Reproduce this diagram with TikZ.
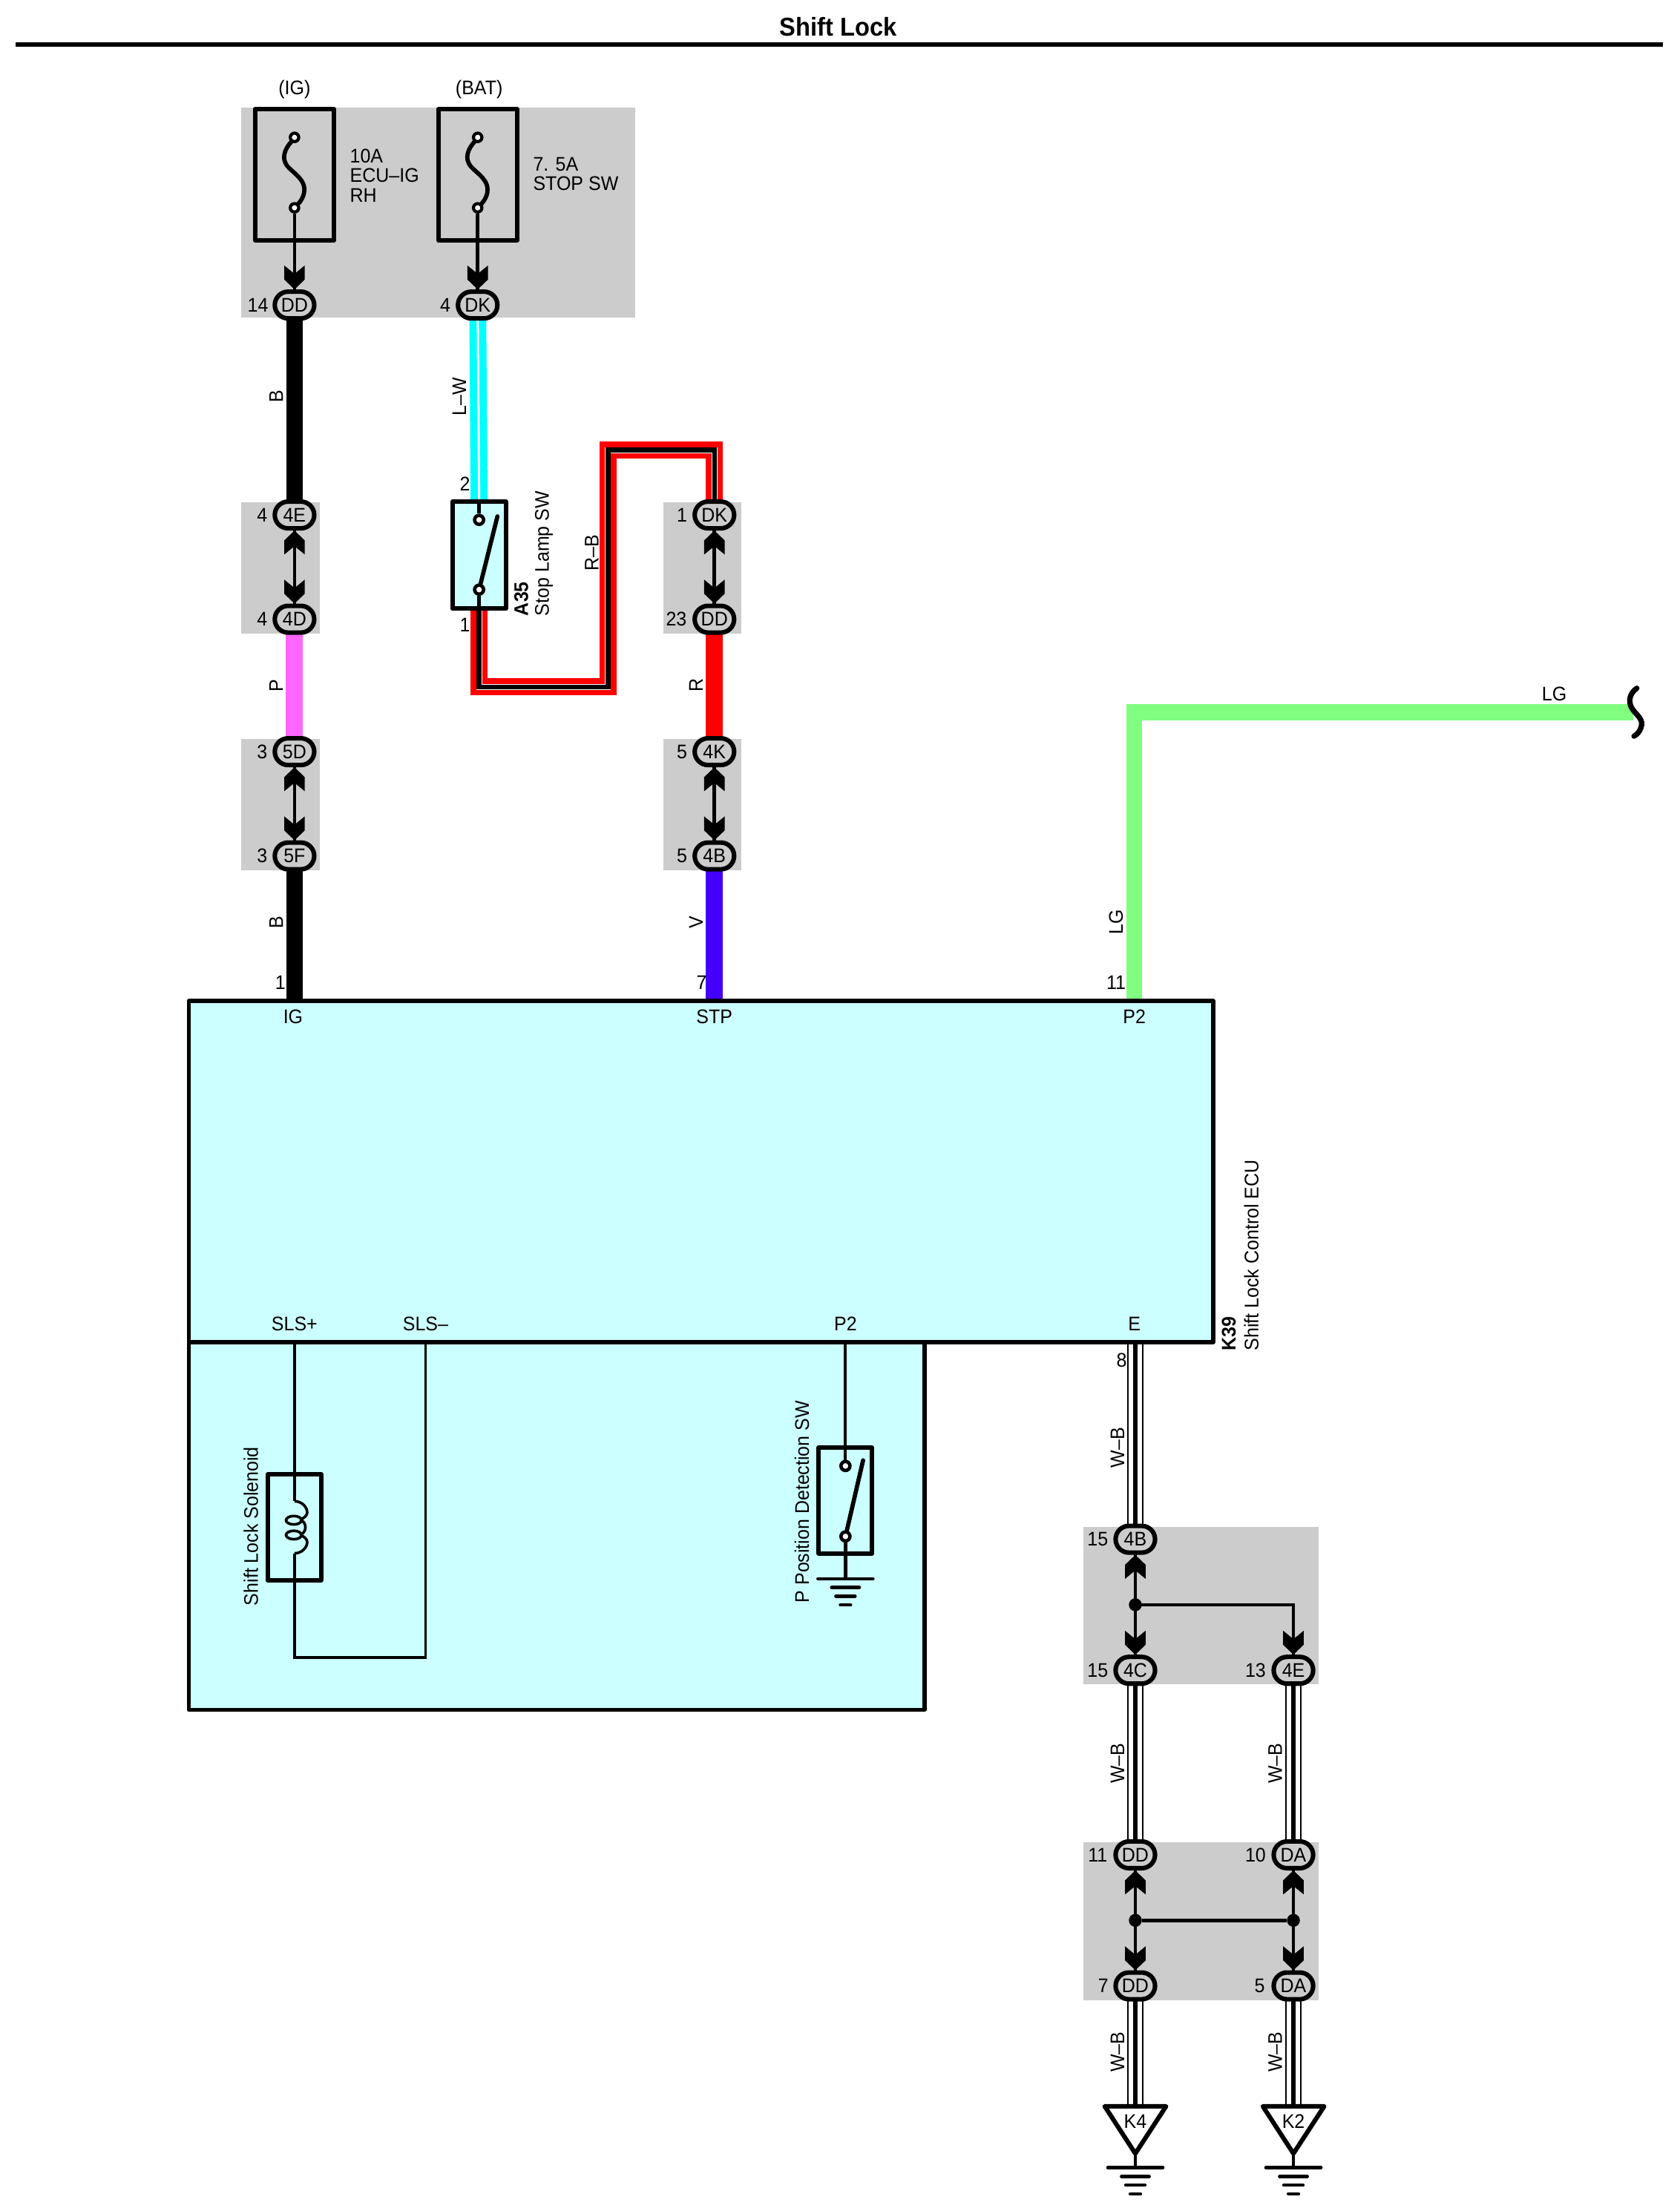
\documentclass[tikz,border=0pt]{standalone}
\usepackage{fontspec}
\setmainfont[FakeStretch=0.94]{Liberation Sans}
\usetikzlibrary{shapes.misc,fit}
\pgfdeclarelayer{greylayer}
\pgfdeclarelayer{wirelayer}
\pgfsetlayers{greylayer,wirelayer,main}
\definecolor{boxcyan}{HTML}{CCFFFF}
\definecolor{greybg}{HTML}{CCCCCC}
\definecolor{wcyan}{HTML}{00FFFF}
\definecolor{wpink}{HTML}{FF66FF}
\definecolor{wviolet}{HTML}{4400FF}
\definecolor{wgreen}{HTML}{80FF80}
\newcommand{\zw}[1]{\makebox[0pt]{#1}}
\tikzset{
  x=0.5pt,y=-0.5pt,
  every node/.style={font=\fontsize{7pt}{7pt}\selectfont,inner sep=0pt,text=black},
  conn/.style={rounded rectangle,draw=black,fill=greybg,line width=1.6pt,minimum width=14pt,minimum height=9.5pt},
  vlab/.style={rotate=90},
  bvlab/.style={rotate=90,font=\fontsize{7pt}{7pt}\selectfont\bfseries},
  heavybox/.style={draw=black,line width=1.6pt,inner sep=0pt,line join=round},
  cyanbox/.style={heavybox,fill=boxcyan},
  mainbox/.style={draw=black,line width=1.5pt,fill=boxcyan,inner sep=0pt,line join=round},
  term/.style={circle,draw=black,fill=white,line width=1.2pt,minimum size=3.2pt},
  fterm/.style={circle,draw=black,fill=white,line width=1.1pt,minimum size=3pt},
  dotj/.style={circle,fill=black,minimum size=4.6pt},
  link/.style={draw=black,line width=1.25pt},
  thin wire/.style={draw=black,line width=1pt},
  swarm/.style={draw=black,line width=1.5pt,line cap=round},
  blackwire/.style={draw=black,line width=5.7pt},
  colwire/.style={line width=6pt},
  lwwire/.style={draw=wcyan,line width=6pt,postaction={draw=white,line width=.8pt}},
  rbwire/.style={draw=red,line width=6pt,line join=miter,postaction={draw=white,line width=2.15pt},postaction={draw=black,line width=1.7pt}},
  wbwire/.style={draw=black,line width=5.6pt,postaction={draw=white,line width=4.9pt},postaction={draw=black,line width=1.5pt}},
  harrow/.pic={\fill[black] (0,0) -- (7.3,-7) -- (7.3,-17) -- (0,-11) -- (-7.3,-17) -- (-7.3,-7) -- cycle;},
  gnd/.pic={
    \draw[line width=1.2pt,line cap=round] (-19.5,0) -- (19.5,0);
    \draw[line width=1.2pt,line cap=round] (-9.8,6.2) -- (9.8,6.2);
    \draw[line width=1.2pt,line cap=round] (-6.8,12.4) -- (6.8,12.4);
    \draw[line width=1.2pt,line cap=round] (-3.6,18.6) -- (3.6,18.6);},
  fusecurve/.style={draw=black,line width=1.5pt},
}
\begin{document}
\begin{tikzpicture}
\useasboundingbox (0,-0.5) rectangle (1192.2,1568.8);
\begin{pgfonlayer}{greylayer}
  \fill[white] (0,-0.5) rectangle (1192.2,1568.8);
  \fill[greybg] (171,76) rectangle (451,225);
  \fill[greybg] (171,356) rectangle (227,449);
  \fill[greybg] (171,524) rectangle (227,617);
  \fill[greybg] (471,356) rectangle (526,449);
  \fill[greybg] (471,524) rectangle (526,617);
  \fill[greybg] (769,1083) rectangle (936,1195);
  \fill[greybg] (769,1307) rectangle (936,1419);
\end{pgfonlayer}

% title
\node[font=\fontsize{9.15pt}{9.15pt}\selectfont\bfseries] (title) at (595,18.5) {Shift Lock};
\coordinate (ruleL) at (11,31);
\coordinate (ruleR) at (1180,31);
\draw[line width=1.6pt] (ruleL) -- (ruleR);

% big boxes
\node[mainbox,fit={(134,952)(656,1213)}] (lowerbox) {};
\node[mainbox,fit={(134,710)(861,952)}] (ecu) {};

% fuses
\node[heavybox,fit={(181,77)(237,170)}] (fuseA) {};
\node[heavybox,fit={(311,77)(367,170)}] (fuseB) {};
\draw[fusecurve] (209,98) .. controls (203,103) and (200,110) .. (202.5,115) .. controls (204,120) and (216,125) .. (216,134) .. controls (216,140) and (212,144) .. (209,147);
\draw[fusecurve] (339,98) .. controls (333,103) and (330,110) .. (332.5,115) .. controls (334,120) and (346,125) .. (346,134) .. controls (346,140) and (342,144) .. (339,147);
\node[fterm] (fa1) at (209,97) {};
\node[fterm] (fa2) at (209,147) {};
\node[fterm] (fb1) at (339,97) {};
\node[fterm] (fb2) at (339,147) {};

% connectors
\node[conn] (c14dd) at (209,216) {\zw{DD}};
\node[conn] (c4dk)  at (339,216) {\zw{DK}};
\node[conn] (c4e)   at (209,365) {\zw{4E}};
\node[conn] (c4d)   at (209,439) {\zw{4D}};
\node[conn] (c5d)   at (209,533) {\zw{5D}};
\node[conn] (c5f)   at (209,607) {\zw{5F}};
\node[conn] (c1dk)  at (507,365) {\zw{DK}};
\node[conn] (c23dd) at (507,439) {\zw{DD}};
\node[conn] (c4k)   at (507,533) {\zw{4K}};
\node[conn] (c4b)   at (507,607) {\zw{4B}};
\node[conn] (d4b)   at (805.7,1092) {\zw{4B}};
\node[conn] (d4c)   at (805.7,1185) {\zw{4C}};
\node[conn] (d4e)   at (917.9,1185) {\zw{4E}};
\node[conn] (d11)   at (805.7,1316) {\zw{DD}};
\node[conn] (d10)   at (917.9,1316) {\zw{DA}};
\node[conn] (d7)    at (805.7,1409) {\zw{DD}};
\node[conn] (d5)    at (917.9,1409) {\zw{DA}};

% stop lamp switch
\node[cyanbox,fit={(321,355.5)(359,431.5)}] (stopsw) {};
\node[term] (s1) at (340,368.5) {};
\node[term] (s2) at (340,418) {};
\draw[line width=1.25pt] (s1) -- (s1 |- stopsw.north);
\draw[line width=1.25pt] (s2) -- (s2 |- stopsw.south);
\coordinate (s1arm) at (353,366);
\draw[swarm] (s2) -- (s1arm);

% ECU labels
\node (pIG) at (208,721) {IG};
\node (pSTP) at (507,721) {STP};
\node (pP2) at (805,721) {P2};
\node (pSLSp) at (209,939) {SLS+};
\node (pSLSm) at (302,939) {SLS–};
\node (pP2b) at (600,939) {P2};
\node (pE) at (805,939) {E};

% solenoid
\node[heavybox,fit={(190,1046)(228,1121)}] (sol) {};
\coordinate (coilT) at (209,1065);
\coordinate (coilB) at (209,1102);
\coordinate (sw1) at (209,952);
\coordinate (sw2) at (209,1176);
\coordinate (sw3) at (302,1176);
\coordinate (sw4) at (302,952);
\draw[thin wire] (sw1) -- (coilT);
\draw[thin wire] (coilB) -- (sw2) -- (sw3) -- (sw4);
\draw[draw=black,line width=.95pt] (coilT) .. controls (214,1065) and (218,1069) .. (218,1073) .. controls (218,1075) and (216,1077) .. (213,1078);
\draw[draw=black,line width=.95pt] (213,1078) .. controls (218,1080) and (218,1087) .. (213,1089);
\draw[draw=black,line width=.95pt] (213,1089) .. controls (216,1090) and (218,1092) .. (218,1094) .. controls (218,1098) and (214,1102) .. (coilB);
\draw[draw=black,line width=.95pt] (208.5,1078.5) ellipse [x radius=5.5,y radius=3];
\draw[draw=black,line width=.95pt] (208.5,1089) ellipse [x radius=5.5,y radius=3];

% P position switch
\node[heavybox,fit={(581,1027)(619,1102)}] (psw) {};
\node[term] (p1) at (600,1040) {};
\node[term] (p2) at (600,1090) {};
\coordinate (parm) at (612.5,1036);
\draw[swarm] (p2) -- (parm);
\coordinate (pwTop) at (600,952);
\coordinate (pgnd) at (600,1120);
\draw[thin wire] (pwTop) -- (p1);
\draw[line width=1.25pt] (p2) -- (pgnd);
\pic at (pgnd) {gnd};

% wires, behind the connectors
\begin{pgfonlayer}{wirelayer}
  \draw[blackwire] (c14dd.center) -- (c4e.center);
  \draw[lwwire] (c4dk.center) -- (s1 |- stopsw.north);
  \draw[colwire,draw=wpink] (c4d.center) -- (c5d.center);
  \draw[blackwire] (c5f.center) -- (c5f |- ecu.north);
  \coordinate (rb1) at (340,487);
  \coordinate (rb2) at (431.5,487);
  \coordinate (rb3) at (431.5,319);
  \coordinate (rb4) at (507,319);
  \draw[rbwire] (s2 |- stopsw.south) -- (rb1) -- (rb2) -- (rb3) -- (rb4) -- (c1dk.center);
  \draw[colwire,draw=red] (c23dd.center) -- (c4k.center);
  \draw[colwire,draw=wviolet] (c4b.center) -- (c4b |- ecu.north);
  \coordinate (lgT) at (805,710);
  \coordinate (lgC) at (805,505);
  \coordinate (lgE) at (1159,505);
  \draw[line width=5.7pt,draw=wgreen] (lgT) -- (lgC) -- (lgE);
  \draw[wbwire] (d4b.center) -- (d4b |- ecu.south);
  \draw[wbwire] (d4c.center) -- (d11.center);
  \draw[wbwire] (d4e.center) -- (d10.center);
  \coordinate (k4top) at (805.7,1494);
  \coordinate (k2top) at (917.9,1494);
  \draw[wbwire] (d7.center) -- (k4top);
  \draw[wbwire] (d5.center) -- (k2top);
  % links inside the grey blocks
  \draw[link] (fa2) -- (c14dd.center);
  \draw[link] (fb2) -- (c4dk.center);
  \draw[link] (c4e.center) -- (c4d.center);
  \draw[link] (c5d.center) -- (c5f.center);
  \draw[link] (c1dk.center) -- (c23dd.center);
  \draw[link] (c4k.center) -- (c4b.center);
  \coordinate (jb) at (917.9,1138.5);
  \draw[link] (d4b.center) -- (d4c.center);
  \draw[link] (d4e.center) -- (jb) -- (805.7,1138.5);
  \draw[link] (d11.center) -- (d7.center);
  \draw[link] (d10.center) -- (d5.center);
\end{pgfonlayer}

% junctions
\node[dotj] (j1) at (805.7,1138.5) {};
\node[dotj] (j2) at (805.7,1362.5) {};
\node[dotj] (j3) at (917.9,1362.5) {};
\draw[link] (j2) -- (j3);

% arrows
\pic at (c14dd.north) {harrow};
\pic at (c4dk.north) {harrow};
\pic at (c4d.north) {harrow};
\pic[rotate=180] at (c4e.south) {harrow};
\pic at (c5f.north) {harrow};
\pic[rotate=180] at (c5d.south) {harrow};
\pic at (c23dd.north) {harrow};
\pic[rotate=180] at (c1dk.south) {harrow};
\pic at (c4b.north) {harrow};
\pic[rotate=180] at (c4k.south) {harrow};
\pic[rotate=180] at (d4b.south) {harrow};
\pic at (d4c.north) {harrow};
\pic at (d4e.north) {harrow};
\pic[rotate=180] at (d11.south) {harrow};
\pic[rotate=180] at (d10.south) {harrow};
\pic at (d7.north) {harrow};
\pic at (d5.north) {harrow};

% grounds K4, K2
\draw[draw=black,line width=1.6pt,fill=white,line join=round] (784,1494.5) -- (827.5,1494.5) -- (805.7,1528) -- cycle;
\draw[draw=black,line width=1.6pt,fill=white,line join=round] (896.2,1494.5) -- (939.7,1494.5) -- (917.9,1528) -- cycle;
\node (k4) at (805.7,1505) {K4};
\node (k2) at (917.9,1505) {K2};
\coordinate (k4g) at (805.7,1538);
\coordinate (k2g) at (917.9,1538);
\draw[line width=1.25pt] (805.7,1528) -- (k4g);
\draw[line width=1.25pt] (917.9,1528) -- (k2g);
\pic at (k4g) {gnd};
\pic at (k2g) {gnd};

% squiggle
\draw[black,line width=1.9pt,line cap=round] (1161.6,488) .. controls (1157,491) and (1155,497) .. (1158,502) .. controls (1161,507) and (1167,510) .. (1164.5,516) .. controls (1163.5,519) and (1161.5,521) .. (1159.6,522);

% texts
\node (tIG) at (209,63) {(IG)};
\node (tBAT) at (340,63) {(BAT)};
\node[align=left,anchor=west] (tf1) at (248,124) {10A\\ECU–IG\\RH};
\node[align=left,anchor=west] (tf2) at (378,123) {7. 5A\\STOP SW};
\node (n14) at (183,216) {14};
\node (n4a) at (316,216) {4};
\node (n4b) at (186,365) {4};
\node (n4c) at (186,439) {4};
\node (n3a) at (186,533) {3};
\node (n3b) at (186,607) {3};
\node (n1a) at (484,365) {1};
\node (n23) at (480,439) {23};
\node (n5a) at (484,533) {5};
\node (n5b) at (484,607) {5};
\node (n2s) at (330,343) {2};
\node (n1s) at (330,443) {1};
\node (n1e) at (199,697) {1};
\node (n7e) at (498,697) {7};
\node (n11e) at (792,697) {11};
\node (n8e) at (796,965) {8};
\node (n15a) at (779,1092) {15};
\node (n15b) at (779,1185) {15};
\node (n13) at (891,1185) {13};
\node (n11) at (779,1316) {11};
\node (n10) at (891,1316) {10};
\node (n7) at (783,1409) {7};
\node (n5) at (894,1409) {5};
\node[vlab] (wB1) at (196,281) {B};
\node[vlab] (wLW) at (326,281) {L–W};
\node[vlab] (wP) at (196,486) {P};
\node[vlab] (wB2) at (196,654) {B};
\node[vlab] (wRB) at (420,392) {R–B};
\node[vlab] (wR) at (494,486) {R};
\node[vlab] (wV) at (494,654) {V};
\node[vlab] (wLG) at (792,654) {LG};
\node (wLGh) at (1103,492) {LG};
\node[vlab] (wWB1) at (793,1027) {W–B};
\node[vlab] (wWB2) at (793,1251) {W–B};
\node[vlab] (wWB3) at (905,1251) {W–B};
\node[vlab] (wWB4) at (793,1456) {W–B};
\node[vlab] (wWB5) at (905,1456) {W–B};
\node[bvlab,anchor=west] (tA35) at (370,437) {A35};
\node[vlab,anchor=west] (tSL) at (386,437) {Stop Lamp SW};
\node[bvlab,anchor=west] (tK39) at (872,958.5) {K39};
\node[vlab,anchor=west] (tECU) at (888,958.5) {Shift Lock Control ECU};
\node[vlab,anchor=west] (tSol) at (178,1139.5) {Shift Lock Solenoid};
\node[vlab,anchor=west] (tPsw) at (569,1137.5) {P Position Detection SW};
\end{tikzpicture}
\end{document}
